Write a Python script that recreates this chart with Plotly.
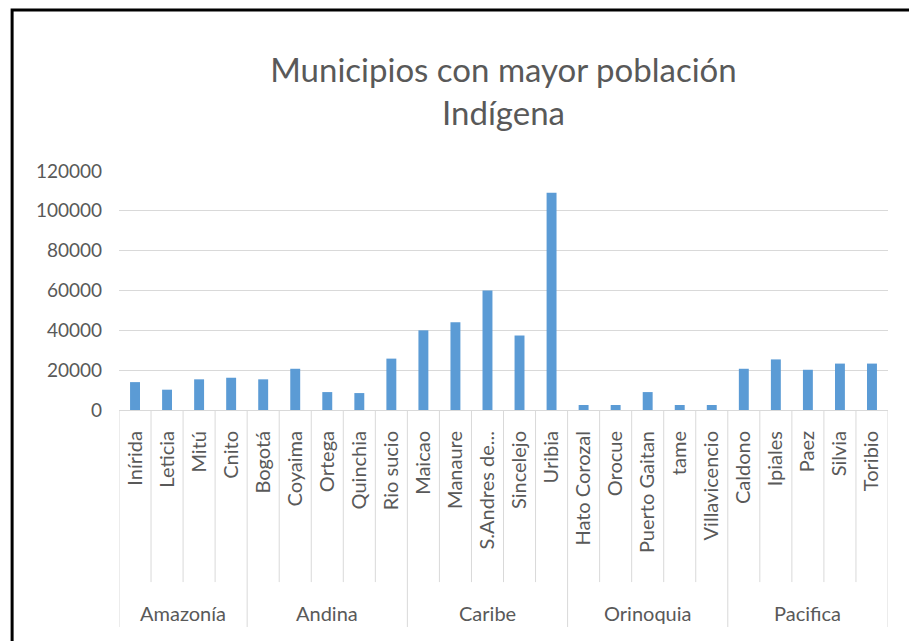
import plotly.graph_objects as go

municipios = ["Inírida", "Leticia", "Mitú", "Cnito",
              "Bogotá", "Coyaima", "Ortega", "Quinchia", "Rio sucio",
              "Maicao", "Manaure", "S.Andres de...", "Sincelejo", "Uribia",
              "Hato Corozal", "Orocue", "Puerto Gaitan", "tame", "Villavicencio",
              "Caldono", "Ipiales", "Paez", "Silvia", "Toribio"]
regiones = ["Amazonía", "Andina", "Caribe", "Orinoquia", "Pacifica"]
municipios_por_region = [4, 5, 5, 5, 5]
poblacion = [14000, 10200, 15400, 16200,
             15400, 20700, 9000, 8500, 25800,
             40000, 44100, 60000, 37400, 109100,
             2500, 2500, 9000, 2500, 2500,
             20700, 25400, 20200, 23300, 23300]
y_ticks = [0, 20000, 40000, 60000, 80000, 100000, 120000]

gray = "#595959"
sep = "#D9D9D9"
fig = go.Figure(go.Bar(
    x=municipios, y=poblacion,
    marker=dict(color="#5B9BD5", line=dict(width=0)),
))
fig.update_layout(
    width=909, height=641,
    margin=dict(l=119, r=21, t=171, b=231),
    paper_bgcolor="white", plot_bgcolor="white",
    bargap=0.69,
    font=dict(family="Lato", color=gray, size=20),
    title=dict(text="Municipios con mayor población<br>Indígena",
               x=0.5, xref="paper", xanchor="center",
               y=1 - 82 / 641, yref="container", yanchor="middle",
               font=dict(family="Lato", size=33, color=gray)),
    showlegend=False,
)
fig.update_xaxes(
    type="category", tickangle=-90, ticks="",
    ticklabelstandoff=12,
    showline=True, linecolor=sep, linewidth=1,
    tickfont=dict(family="Lato", size=20, color=gray),
    showgrid=False, range=[-0.5, len(municipios) - 0.5],
)
fig.update_yaxes(
    range=[0, 120000], tickvals=y_ticks, ticktext=[str(v) for v in y_ticks],
    showgrid=True, gridcolor=sep, gridwidth=1,
    zeroline=False, showline=False, ticks="",
    ticklabelstandoff=16,
    tickfont=dict(family="Lato", size=19, color=gray),
)

# category separators and group dividers below the axis
group_bounds = [-0.5]
for n in municipios_por_region:
    group_bounds.append(group_bounds[-1] + n)
for i in range(len(municipios) + 1):
    b = i - 0.5
    is_group = b in group_bounds
    fig.add_shape(type="line", xref="x", yref="paper", x0=b, x1=b,
                  y0=0, y1=-0.908 if is_group else -0.72,
                  line=dict(color=sep, width=1))
# group labels
for k, reg in enumerate(regiones):
    mid = (group_bounds[k] + group_bounds[k + 1]) / 2
    fig.add_annotation(x=mid, xref="x", y=-0.849, yref="paper",
                       text=reg, showarrow=False, yanchor="middle",
                       font=dict(family="Lato", size=20, color=gray))

# outer chart frame
fig.add_shape(type="rect", xref="paper", yref="paper",
              x0=-0.139, x1=1.04, y0=-1.02, y1=1.674,
              line=dict(color="black", width=3), layer="above")
fig.write_html("out.html", config={"displayModeBar": False},
               post_script="document.body.style.margin='0px';")
